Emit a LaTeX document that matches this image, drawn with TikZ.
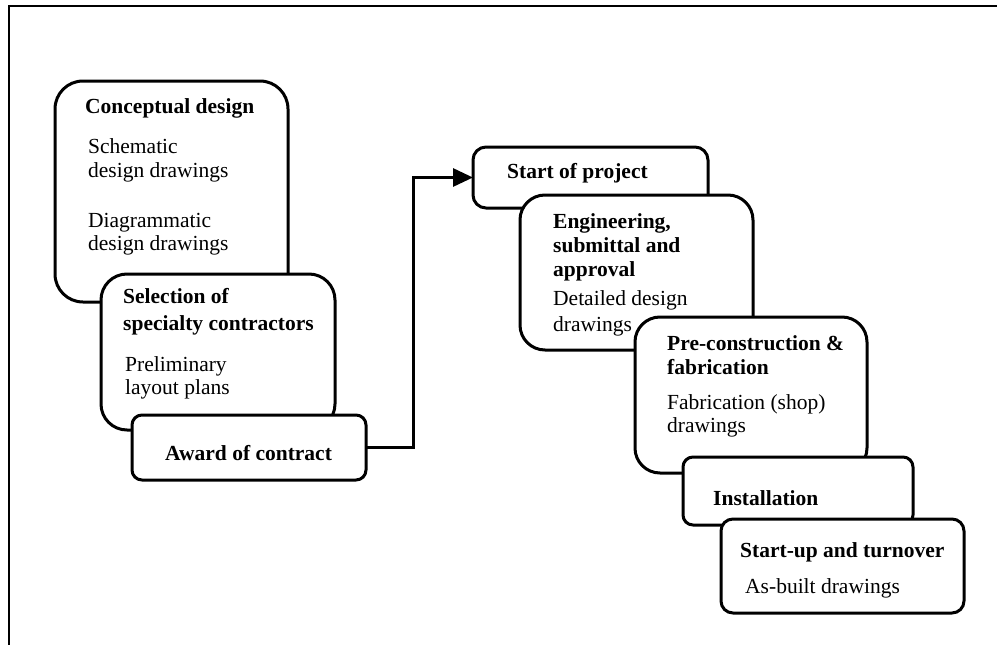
\documentclass[tikz,border=0pt]{standalone}
\usepackage{fontspec}
\setmainfont{Liberation Serif}
\usetikzlibrary{arrows.meta}

\tikzset{
  stage/.style={draw, line width=3pt, fill=white, anchor=north west,
    inner sep=0pt, outer sep=0pt},
  title/.style={anchor=base west, inner sep=0pt,
    font=\fontsize{21.5}{25}\selectfont\bfseries},
  body/.style={anchor=base west, inner sep=0pt,
    font=\fontsize{21.5}{25}\selectfont},
  flow/.style={line width=3pt, -{Triangle[length=20pt,width=18pt]}},
  frame/.style={line width=2pt}
}

\begin{document}
\begin{tikzpicture}[x=1pt,y=-1pt]
\useasboundingbox (0,0) rectangle (997,645);

% page frame (top and left edges)
\coordinate (frameBL) at (9,645);
\coordinate (frameTL) at (9,6);
\coordinate (frameTR) at (997,6);
\draw[frame] (frameBL) -- (frameTL) -- (frameTR);

% ---- design phase ----
\node[stage, rounded corners=28pt, minimum width=233pt, minimum height=221pt]
  (concept) at (55,81) {};
\node[title] (conceptT) at (85,113) {Conceptual design};
\node[body] (conceptA) at (88,153) {Schematic};
\node[body] (conceptB) at (88,177) {design drawings};
\node[body] (conceptC) at (88,227) {Diagrammatic};
\node[body] (conceptD) at (88,250) {design drawings};

\node[stage, rounded corners=26pt, minimum width=234pt, minimum height=156pt]
  (select) at (101,274) {};
\node[title] (selectT1) at (123,303) {Selection of};
\node[title] (selectT2) at (123,330) {specialty contractors};
\node[body] (selectA) at (125,371) {Preliminary};
\node[body] (selectB) at (125,394) {layout plans};

\node[stage, rounded corners=10pt, minimum width=234pt, minimum height=65pt]
  (award) at (132,415) {};
\node[title] (awardT) at (165,460) {Award of contract};

% ---- project phase ----
\node[stage, rounded corners=13pt, minimum width=235pt, minimum height=61pt]
  (start) at (473,147) {};
\node[title] (startT) at (507,178) {Start of project};

\node[stage, rounded corners=25pt, minimum width=233pt, minimum height=155pt]
  (eng) at (520,195) {};
\node[title] (engT1) at (553,228) {Engineering,};
\node[title] (engT2) at (553,252) {submittal and};
\node[title] (engT3) at (553,276) {approval};
\node[body] (engA) at (553,305) {Detailed design};
\node[body] (engB) at (553,331) {drawings};

\node[stage, rounded corners=25pt, minimum width=232pt, minimum height=156pt]
  (precon) at (635,317) {};
\node[title] (preconT1) at (667,350) {Pre-construction \&};
\node[title] (preconT2) at (667,374) {fabrication};
\node[body] (preconA) at (667,409) {Fabrication (shop)};
\node[body] (preconB) at (667,432) {drawings};

\node[stage, rounded corners=10pt, minimum width=230pt, minimum height=68pt]
  (install) at (683,457) {};
\node[title] (installT) at (713,505) {Installation};

\node[stage, rounded corners=12pt, minimum width=243pt, minimum height=94pt]
  (startup) at (721,519) {};
\node[title] (startupT) at (740,557) {Start-up and turnover};
\node[body] (startupA) at (745,593) {As-built drawings};

% ---- connector from contract award to project start ----
\coordinate (bend) at (413,447.5);
\draw[flow] (award.east) -- (bend) |- (start.west);

\end{tikzpicture}
\end{document}
